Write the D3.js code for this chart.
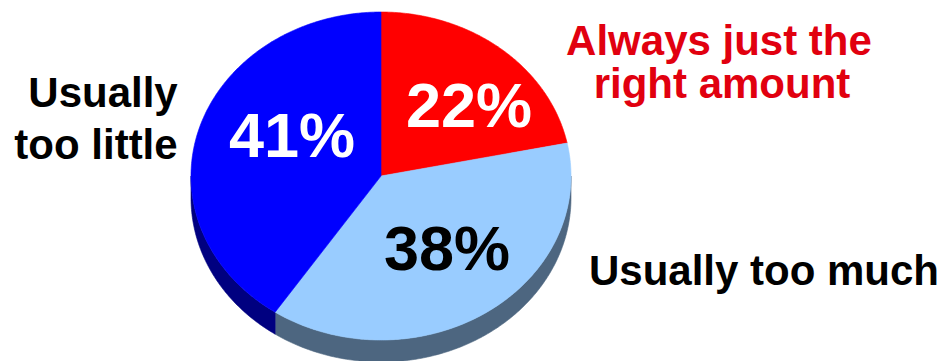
<!DOCTYPE html>
<html>
<head>
<meta charset="utf-8">
<script src="https://cdn.jsdelivr.net/npm/d3@7"></script>
<style>
  html, body { margin: 0; padding: 0; background: #ffffff; }
  svg { display: block; }
  text { font-family: "Liberation Sans", Arial, Helvetica, sans-serif; font-weight: bold; }
</style>
</head>
<body>
<svg id="chart" width="946" height="361"></svg>
<script>
// ---- data ----
const categories = ["Always just the right amount", "Usually too much", "Usually too little"];
const values = [22, 38, 41];
const pctLabels = ["22%", "38%", "41%"];
const topColors = ["#ff0000", "#99ccff", "#0000ff"];
const sideColors = ["#800000", "#4d6680", "#000080"];
const pctColors = ["#ffffff", "#000000", "#ffffff"];

// ---- geometry ----
const cx = 381, cy = 176, rx = 190, ry = 164, depth = 22;

const svg = d3.select("#chart");
const color = d3.scaleOrdinal().domain(categories).range(topColors);
const sideColor = d3.scaleOrdinal().domain(categories).range(sideColors);

const pie = d3.pie().sort(null).value(d => d.v).startAngle(0).endAngle(2 * Math.PI);
const arcs = pie(categories.map((c, i) => ({ c, v: values[i], i })));

function pt(a, dy) {
  return [cx + rx * Math.sin(a), cy - ry * Math.cos(a) + (dy || 0)];
}
function arcPoints(a0, a1, dy) {
  const n = Math.max(2, Math.ceil(Math.abs(a1 - a0) / 0.01));
  const pts = [];
  for (let k = 0; k <= n; k++) pts.push(pt(a0 + (a1 - a0) * k / n, dy));
  return pts;
}
const line = d3.line();

// sides (front half: angles between PI/2 and 3PI/2)
const gSide = svg.append("g");
arcs.forEach(a => {
  const s = Math.max(a.startAngle, Math.PI / 2);
  const e = Math.min(a.endAngle, 3 * Math.PI / 2);
  if (e <= s) return;
  const top = arcPoints(s, e, 0);
  const bot = arcPoints(e, s, depth);
  gSide.append("path")
    .attr("d", line(top.concat(bot)) + "Z")
    .attr("fill", sideColor(a.data.c))
    .attr("stroke", sideColor(a.data.c))
    .attr("stroke-width", 0.6);
});

// top faces
const gTop = svg.append("g");
arcs.forEach(a => {
  const pts = [[cx, cy]].concat(arcPoints(a.startAngle, a.endAngle, 0));
  gTop.append("path")
    .attr("d", line(pts) + "Z")
    .attr("fill", color(a.data.c))
    .attr("stroke", color(a.data.c))
    .attr("stroke-width", 0.6);
});

// percentage labels
const pctPos = [[469, 127], [447, 270], [292, 157]];
const gPct = svg.append("g");
arcs.forEach((a, i) => {
  gPct.append("text")
    .attr("x", pctPos[i][0]).attr("y", pctPos[i][1])
    .attr("text-anchor", "middle")
    .attr("font-size", 63)
    .attr("fill", pctColors[i])
    .text(pctLabels[i]);
});

// category labels
const gLab = svg.append("g").attr("font-size", 42);
gLab.append("text").attr("x", 719).attr("y", 55).attr("text-anchor", "middle")
  .attr("fill", "#e1000f").text("Always just the");
gLab.append("text").attr("x", 722).attr("y", 98).attr("text-anchor", "middle")
  .attr("fill", "#e1000f").text("right amount");
gLab.append("text").attr("x", 764).attr("y", 285).attr("text-anchor", "middle")
  .attr("fill", "#000000").text(categories[1]);
gLab.append("text").attr("x", 103).attr("y", 107).attr("text-anchor", "middle")
  .attr("fill", "#000000").text("Usually");
gLab.append("text").attr("x", 96).attr("y", 159).attr("text-anchor", "middle")
  .attr("fill", "#000000").text("too little");
</script>
</body>
</html>
